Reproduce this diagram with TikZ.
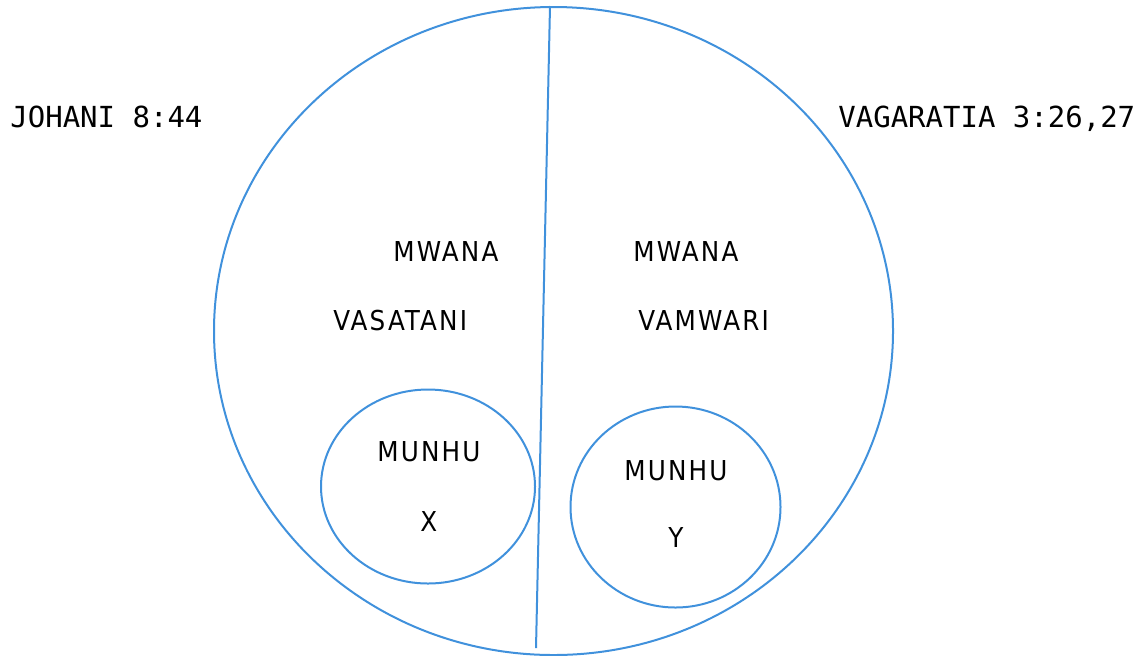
\documentclass[tikz,border=0pt]{standalone}
\usepackage{fontspec}
\setmainfont{DejaVu Sans}
\newfontfamily\monof{DejaVu Sans Mono}
\newfontfamily\condf[LetterSpace=8]{DejaVu Sans Condensed}
\usetikzlibrary{shapes.geometric}
\definecolor{lineblue}{RGB}{64,145,220}
\tikzset{
  ring/.style={draw=lineblue, line width=1pt, ellipse, inner sep=0pt},
  reflabel/.style={anchor=base west, inner sep=0pt, font=\monof\fontsize{14.5pt}{16pt}\selectfont},
  innerlabel/.style={anchor=base west, inner sep=0pt, font=\condf\fontsize{13.7pt}{15pt}\selectfont},
}
\begin{document}
\begin{tikzpicture}[x=0.5pt,y=-0.5pt]
\useasboundingbox (0,0) rectangle (1143,655);
\node[ring, minimum width=339.5pt, minimum height=324pt] (big) at (553.5,331) {};
\coordinate (top) at (550,6);
\coordinate (bot) at (536,648);
\draw[lineblue, line width=1pt] (top) -- (bot);
\node[ring, minimum width=107pt, minimum height=97pt] (cx) at (428,486.5) {};
\node[ring, minimum width=105pt, minimum height=100.5pt] (cy) at (675.5,507) {};
\node[reflabel] (joh) at (10,127.5) {JOHANI 8:44};
\node[reflabel] (vag) at (838,127.5) {VAGARATIA 3:26,27};
\node[innerlabel] (mw1) at (393,261) {MWANA};
\node[innerlabel] (vs) at (333,330.5) {VASATANI};
\node[innerlabel] (mw2) at (633,261) {MWANA};
\node[innerlabel] (vm) at (638,330.5) {VAMWARI};
\node[innerlabel] (mu1) at (377,461) {MUNHU};
\node[innerlabel] (xx) at (420,531) {X};
\node[innerlabel] (mu2) at (624,480) {MUNHU};
\node[innerlabel] (yy) at (668,547) {Y};
\end{tikzpicture}
\end{document}
